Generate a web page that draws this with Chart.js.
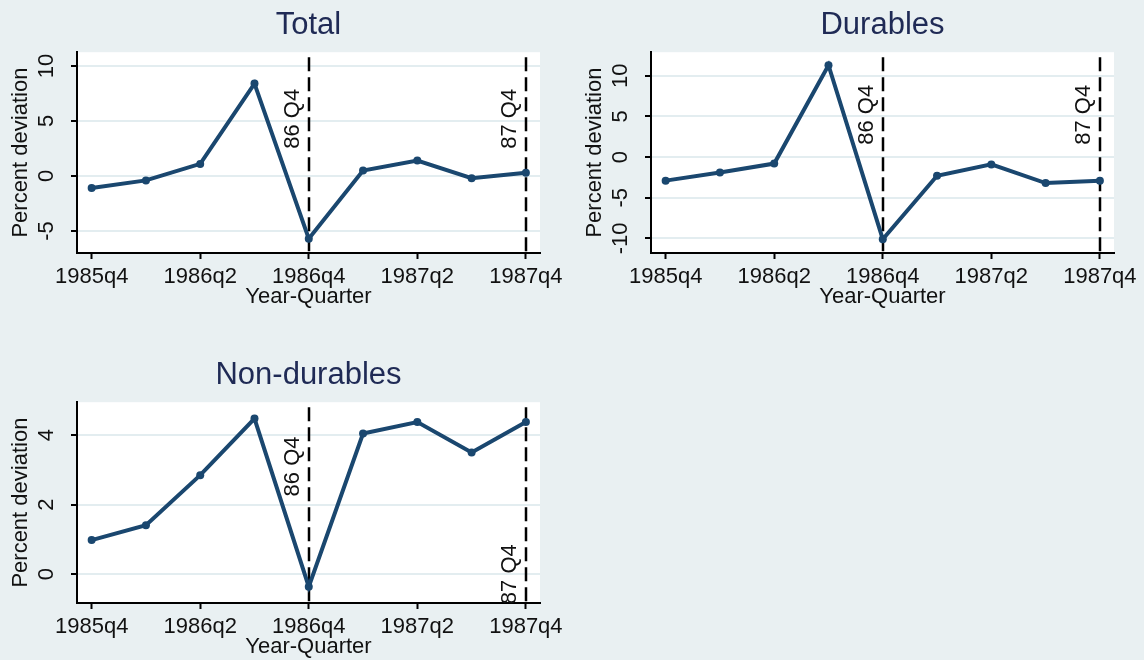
<!DOCTYPE html>
<html>
<head>
<meta charset="utf-8">
<title>Percent deviation by quarter</title>
<script src="https://cdn.jsdelivr.net/npm/chart.js@4.4.1/dist/chart.umd.min.js"></script>
<style>
  html, body { margin: 0; padding: 0; width: 1144px; height: 660px; overflow: hidden; background: #e9f0f2; }
  canvas { position: absolute; }
  #totalChart   { left: 0;     top: 0; }
  #durChart     { left: 574px; top: 0; }
  #nondurChart  { left: 0;     top: 350px; }
</style>
</head>
<body>
<canvas id="totalChart" width="572" height="312"></canvas>
<canvas id="durChart" width="572" height="312"></canvas>
<canvas id="nondurChart" width="572" height="312"></canvas>
<script>
// ── Data ───────────────────────────────────────────────────────
const QUARTERS = ['1985q4', '1986q1', '1986q2', '1986q3', '1986q4',
                  '1987q1', '1987q2', '1987q3', '1987q4'];
const X_TICKS  = [0, 2, 4, 6, 8];   // indices into QUARTERS that get a label

const TOTAL       = [-1.1, -0.4, 1.1, 8.4, -5.7, 0.5, 1.4, -0.2, 0.3];
const DURABLES    = [-2.9, -1.9, -0.8, 11.3, -10.1, -2.3, -0.9, -3.2, -2.9];
const NONDURABLES = [0.98, 1.41, 2.85, 4.48, -0.36, 4.05, 4.38, 3.5, 4.38];

const TOTAL_TICKS    = [-5, 0, 5, 10];
const DURABLES_TICKS = [-10, -5, 0, 5, 10];
const NONDUR_TICKS   = [0, 2, 4];

// vertical reference lines (quarter index), their text and where the text sits
const REF_LINES      = [4, 8];
const REF_LABELS     = ['86 Q4', '87 Q4'];
const TOTAL_REF_Y    = [5.2, 5.2];
const DURABLES_REF_Y = [5.2, 5.2];
const NONDUR_REF_Y   = [3.1, 0];

// ── Style ──────────────────────────────────────────────────────
const FONT      = "'Liberation Sans', Arial, sans-serif";
const LINE_CLR  = '#1a476f';
const GRID_CLR  = '#e3edf0';
const TEXT_CLR  = '#111';
const TXT_SIZE  = 22;

Chart.defaults.font.family = FONT;
Chart.defaults.color       = TEXT_CLR;

// white plot region
const plotBg = {
  id: 'plotBg',
  beforeDraw(chart) {
    const { ctx, chartArea: a } = chart;
    ctx.save();
    ctx.fillStyle = '#fff';
    ctx.fillRect(a.left, a.top, a.right - a.left, a.bottom - a.top);
    ctx.restore();
  }
};

// dashed xlines with vertical captions
const refLines = {
  id: 'refLines',
  beforeDatasetsDraw(chart, args, opts) {
    const { ctx, chartArea: a, scales: { x, y } } = chart;
    ctx.save();
    REF_LINES.forEach((q, i) => {
      const px = Math.round(x.getPixelForValue(q));
      ctx.strokeStyle = '#000';
      ctx.lineWidth = 2.5;
      ctx.setLineDash([14, 6]);
      ctx.beginPath();
      ctx.moveTo(px, a.top + 5);
      ctx.lineTo(px, a.bottom);
      ctx.stroke();

      ctx.setLineDash([]);
      ctx.save();
      ctx.translate(px - 16, y.getPixelForValue(opts.labelY[i]));
      ctx.rotate(-Math.PI / 2);
      ctx.font = `${TXT_SIZE}px ${FONT}`;
      ctx.fillStyle = TEXT_CLR;
      ctx.textAlign = 'center';
      ctx.textBaseline = 'middle';
      ctx.fillText(REF_LABELS[i], 0, 0);
      ctx.restore();
    });
    ctx.restore();
  }
};

// Stata-style vertical y tick labels
const yTickText = {
  id: 'yTickText',
  afterDraw(chart) {
    const { ctx, chartArea: a, scales: { y } } = chart;
    ctx.save();
    ctx.font = `${TXT_SIZE}px ${FONT}`;
    ctx.fillStyle = TEXT_CLR;
    ctx.textAlign = 'center';
    ctx.textBaseline = 'middle';
    y.ticks.forEach(t => {
      ctx.save();
      ctx.translate(a.left - 30, y.getPixelForValue(t.value));
      ctx.rotate(-Math.PI / 2);
      ctx.fillText(String(t.value), 0, 0);
      ctx.restore();
    });
    ctx.restore();
  }
};

function makePanel(id, title, values, yTicks, yMin, yMax, refY) {
  new Chart(document.getElementById(id), {
    type: 'line',
    data: {
      datasets: [{
        data: values.map((v, i) => ({ x: i, y: v })),
        borderColor: LINE_CLR,
        backgroundColor: LINE_CLR,
        borderWidth: 4,
        pointRadius: 4,
        pointBackgroundColor: LINE_CLR,
        pointBorderWidth: 0,
        tension: 0
      }]
    },
    options: {
      responsive: false,
      animation: false,
      layout: { padding: { left: 0, right: 32, top: 0, bottom: 2 } },
      plugins: {
        legend:  { display: false },
        tooltip: { enabled: false },
        title: {
          display: true,
          text: title,
          fullSize: false,
          color: '#1f2a55',
          font: { size: 31, weight: 'normal' },
          padding: { top: 7, bottom: 8 }
        },
        refLines: { labelY: refY }
      },
      scales: {
        x: {
          type: 'linear',
          min: -0.27,
          max: 8.26,
          afterBuildTicks: s => { s.ticks = X_TICKS.map(v => ({ value: v })); },
          afterFit: s => { s.height = 57; },
          ticks: {
            callback: v => QUARTERS[v],
            font: { size: TXT_SIZE },
            color: TEXT_CLR,
            padding: 5,
            maxRotation: 0,
            autoSkip: false
          },
          grid: { drawOnChartArea: false, tickLength: 6, tickColor: '#000', tickWidth: 2 },
          border: { display: true, color: '#000', width: 2 },
          title: {
            display: true,
            text: 'Year-Quarter',
            font: { size: TXT_SIZE },
            color: TEXT_CLR,
            padding: { top: 0, bottom: 0 }
          }
        },
        y: {
          min: yMin,
          max: yMax,
          afterBuildTicks: s => { s.ticks = yTicks.map(v => ({ value: v })); },
          afterFit: s => { s.width = 77; },
          ticks: { display: false },
          grid: { color: GRID_CLR, lineWidth: 2, tickLength: 6, tickColor: '#000', tickWidth: 2 },
          border: { display: true, color: '#000', width: 2 },
          title: {
            display: true,
            text: 'Percent deviation',
            font: { size: TXT_SIZE },
            color: TEXT_CLR,
            padding: { top: 8, bottom: 0 }
          }
        }
      }
    },
    plugins: [plotBg, refLines, yTickText]
  });
}

makePanel('totalChart',  'Total',        TOTAL,       TOTAL_TICKS,    -7.0,  11.25, TOTAL_REF_Y);
makePanel('durChart',    'Durables',     DURABLES,    DURABLES_TICKS, -11.8, 12.9,  DURABLES_REF_Y);
makePanel('nondurChart', 'Non-durables', NONDURABLES, NONDUR_TICKS,   -0.83, 4.95,  NONDUR_REF_Y);
</script>
</body>
</html>
